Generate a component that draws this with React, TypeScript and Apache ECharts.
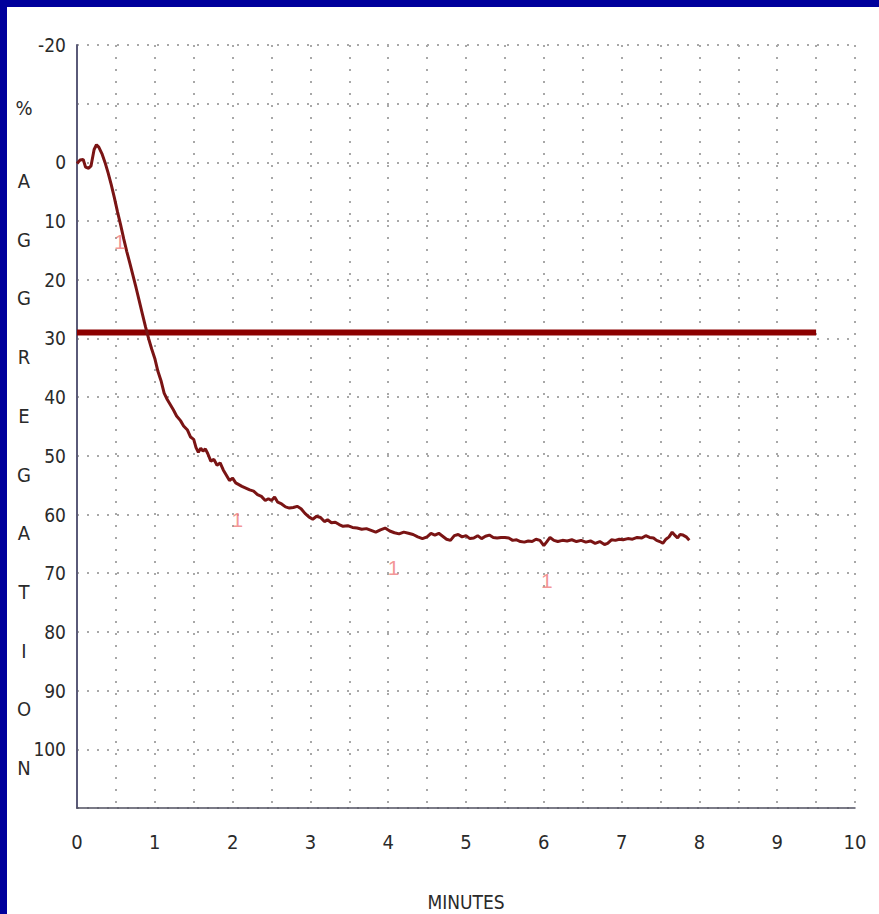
import React, { useEffect, useRef } from "react";
import * as echarts from "echarts";

// Aggregation trace: [minutes, % aggregation]
const traceTimes = [
  0, 0.04, 0.08, 0.11, 0.15, 0.18, 0.22, 0.25, 0.28, 0.32, 0.36, 0.4, 0.44, 0.48, 0.52, 0.56, 0.6, 0.64, 0.68, 0.72,
  0.76, 0.8, 0.84, 0.88, 0.92, 0.96, 1.0, 1.04, 1.08, 1.12, 1.16, 1.2, 1.24, 1.28, 1.33, 1.37, 1.42, 1.46, 1.5, 1.53,
  1.56, 1.59, 1.62, 1.65, 1.68, 1.72, 1.76, 1.8, 1.84, 1.88, 1.92, 1.96, 2.0, 2.04, 2.08, 2.12, 2.17, 2.22, 2.27, 2.32,
  2.37, 2.42, 2.46, 2.5, 2.54, 2.58, 2.63, 2.68, 2.73, 2.78, 2.83, 2.88, 2.93, 2.98, 3.03, 3.08, 3.13, 3.18, 3.22, 3.27,
  3.32, 3.37, 3.42, 3.48, 3.54, 3.6, 3.66, 3.72, 3.78, 3.84, 3.9, 3.96, 4.02, 4.08, 4.14, 4.2, 4.26, 4.32, 4.38, 4.44,
  4.5, 4.55, 4.6, 4.65, 4.7, 4.75, 4.8, 4.85, 4.9, 4.95, 5.0, 5.05, 5.1, 5.15, 5.2, 5.25, 5.3, 5.35, 5.4, 5.45,
  5.5, 5.55, 5.6, 5.65, 5.7, 5.75, 5.8, 5.85, 5.9, 5.95, 6.0, 6.04, 6.08, 6.13, 6.18, 6.24, 6.3, 6.36, 6.42, 6.48,
  6.54, 6.6, 6.66, 6.72, 6.78, 6.82, 6.87, 6.92, 6.97, 7.02, 7.08, 7.14, 7.2, 7.26, 7.31, 7.36, 7.41, 7.45, 7.49, 7.53,
  7.57, 7.61, 7.65, 7.69, 7.72, 7.75, 7.79, 7.83, 7.87,
];
const traceValues = [
  0.2, -0.4, -0.5, 0.8, 1.0, 0.6, -2.2, -3.0, -2.6, -1.5, 0.0, 1.8, 3.8, 6.0, 8.4, 10.6, 13.0, 15.2, 17.2, 19.3,
  21.4, 23.6, 25.8, 28.0, 30.0, 31.8, 33.4, 35.6, 37.2, 39.3, 40.4, 41.3, 42.2, 43.2, 44.0, 44.9, 45.6, 46.8, 47.2, 48.6,
  49.4, 48.7, 49.2, 48.8, 49.6, 50.9, 50.6, 51.6, 51.2, 52.4, 53.3, 54.2, 53.8, 54.6, 54.9, 55.2, 55.5, 55.8, 56.0, 56.6,
  56.9, 57.6, 57.3, 57.6, 57.0, 57.9, 58.2, 58.7, 58.9, 58.8, 58.6, 59.0, 59.8, 60.4, 60.8, 60.3, 60.5, 61.2, 60.9, 61.4,
  61.3, 61.7, 62.0, 61.9, 62.2, 62.3, 62.5, 62.4, 62.7, 63.0, 62.6, 62.3, 62.8, 63.1, 63.3, 63.0, 63.2, 63.4, 63.8, 64.1,
  63.8, 63.2, 63.5, 63.2, 63.7, 64.2, 64.4, 63.6, 63.4, 63.8, 63.6, 64.1, 64.0, 63.6, 64.1, 63.7, 63.5, 63.9, 64.0, 63.9,
  63.9, 64.0, 64.4, 64.3, 64.6, 64.7, 64.5, 64.6, 64.2, 64.4, 65.3, 64.6, 63.9, 64.4, 64.6, 64.4, 64.5, 64.3, 64.6, 64.4,
  64.7, 64.5, 64.9, 64.6, 65.1, 64.9, 64.3, 64.4, 64.2, 64.3, 64.1, 64.2, 63.9, 64.0, 63.6, 63.9, 64.0, 64.4, 64.6, 64.9,
  64.2, 63.8, 63.0, 63.6, 64.0, 63.4, 63.5, 63.8, 64.4,
];

// Horizontal reference line
const thresholdTimes = [0, 9.5];
const thresholdValue = 29;

// Event markers "1"
const markerTimes = [0.55, 2.06, 4.07, 6.04];
const markerValues = [13.5, 60.8, 69.1, 71.2];
const markerText = "1";

// Axis ticks
const yTickLabels = [-20, 0, 10, 20, 30, 40, 50, 60, 70, 80, 90, 100];
const xTickLabels = [0, 1, 2, 3, 4, 5, 6, 7, 8, 9, 10];
const yTitleLetters = ["%", "A", "G", "G", "R", "E", "G", "A", "T", "I", "O", "N"];
const xTitle = "MINUTES";

const FONT = "'DejaVu Sans Condensed', 'Liberation Sans', Arial, sans-serif";
const TEXT_COLOR = "#2a2a2a";

export default function App() {
  const ref = useRef<HTMLDivElement>(null);

  useEffect(() => {
    if (!ref.current) return;
    const chart = echarts.init(ref.current, null, { renderer: "svg" });

    const letterY = (i: number) => (i === 0 ? 108 : 181 + (i - 1) * 58.7);

    chart.setOption({
      animation: false,
      backgroundColor: "#ffffff",
      grid: {
        left: 77,
        right: 24,
        top: 45,
        bottom: 106,
        containLabel: false,
        outerBoundsMode: "none",
      },
      xAxis: {
        type: "value",
        min: 0,
        max: 10,
        interval: 0.5,
        name: xTitle,
        nameLocation: "middle",
        nameGap: 84,
        nameTextStyle: { fontFamily: FONT, fontSize: 19, color: TEXT_COLOR },
        axisLine: { show: true, onZero: false, lineStyle: { color: "#505060", width: 1.5 } },
        axisTick: { show: false },
        axisLabel: {
          margin: 24,
          fontFamily: FONT,
          fontSize: 20,
          color: TEXT_COLOR,
          formatter: (v: number) => (xTickLabels.includes(v) ? String(v) : ""),
        },
        splitLine: { show: true, lineStyle: { color: "#a8a8a8", width: 2, type: [2, 10] } },
      },
      yAxis: {
        type: "value",
        inverse: true,
        min: -20,
        max: 110,
        interval: 10,
        axisLine: { show: true, onZero: false, lineStyle: { color: "#5a5a78", width: 2 } },
        axisTick: { show: false },
        axisLabel: {
          margin: 11,
          fontFamily: FONT,
          fontSize: 19,
          color: TEXT_COLOR,
          formatter: (v: number) => (yTickLabels.includes(v) ? String(v) : ""),
        },
        splitLine: { show: true, lineStyle: { color: "#a8a8a8", width: 2, type: [2, 8] } },
      },
      graphic: [
        { type: "rect", shape: { x: 0, y: 0, width: 879, height: 7 }, style: { fill: "#00009c" }, z: 100 },
        { type: "rect", shape: { x: 0, y: 0, width: 7, height: 914 }, style: { fill: "#00009c" }, z: 100 },
        ...yTitleLetters.map((ch, i) => ({
          type: "text",
          x: 24,
          y: letterY(i),
          style: {
            text: ch,
            fontFamily: FONT,
            fontSize: 20,
            fill: TEXT_COLOR,
            align: "center",
            verticalAlign: "middle",
          },
        })),
      ],
      series: [
        {
          type: "line",
          data: thresholdTimes.map((t) => [t, thresholdValue]),
          symbol: "none",
          lineStyle: { color: "#8b0000", width: 6 },
          z: 3,
        },
        {
          type: "line",
          data: traceTimes.map((t, i) => [t, traceValues[i]]),
          symbol: "none",
          lineStyle: { color: "#7a1414", width: 3 },
          z: 4,
        },
        {
          type: "scatter",
          data: markerTimes.map((t, i) => [t, markerValues[i]]),
          symbolSize: 0,
          label: {
            show: true,
            position: "inside",
            formatter: () => markerText,
            fontFamily: "'Liberation Sans', Arial, sans-serif",
            fontSize: 21,
            color: "#f07a7a",
          },
          z: 5,
        },
      ],
    });

    return () => chart.dispose();
  }, []);

  return (
    <div
      ref={ref}
      style={{ position: "absolute", left: 0, top: 0, width: 879, height: 914, background: "#fff" }}
    />
  );
}
